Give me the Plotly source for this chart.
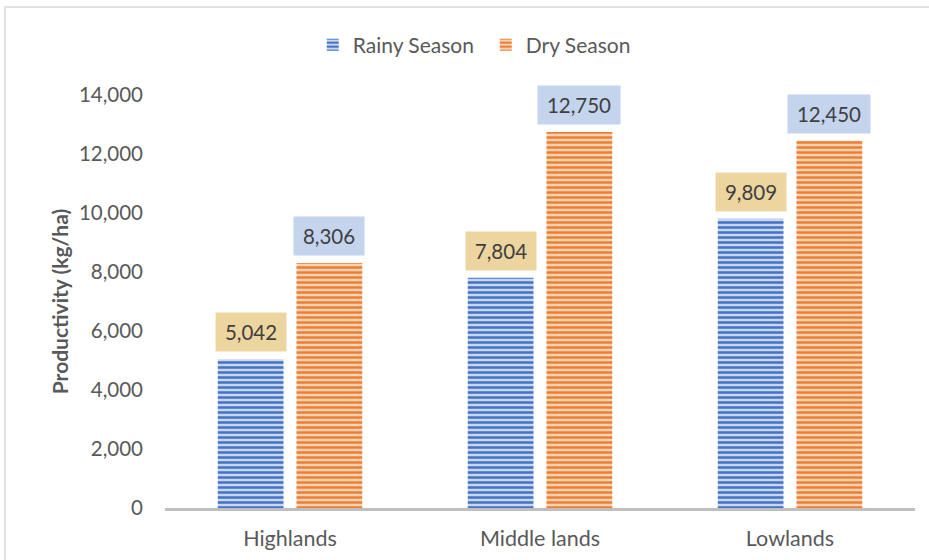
import plotly.graph_objects as go

categories = ["Highlands", "Middle lands", "Lowlands"]
rainy = [5042, 7804, 9809]
dry = [8306, 12750, 12450]
series_names = ["Rainy Season", "Dry Season"]
y_ticks = [0, 2000, 4000, 6000, 8000, 10000, 12000, 14000]

FONT = "Lato"
GREY = "#595959"
BARGAP = 0.37
BARGROUPGAP = 0.165

fig = go.Figure()
fig.add_trace(go.Bar(
    x=categories, y=rainy, name=series_names[0],
    marker=dict(color="#4472C4", line=dict(width=0),
                pattern=dict(shape="-", size=5, solidity=0.5,
                             fgcolor="#4472C4", bgcolor="#C9D6F0", fillmode="replace")),
))
fig.add_trace(go.Bar(
    x=categories, y=dry, name=series_names[1],
    marker=dict(color="#ED7D31", line=dict(width=0),
                pattern=dict(shape="-", size=5, solidity=0.5,
                             fgcolor="#ED7D31", bgcolor="#FAD3B6", fillmode="replace")),
))

# data labels
slot = (1 - BARGAP) / 2
for i, cat in enumerate(categories):
    for vals, off, bg in ((rainy, -slot / 2, "#EDD59F"), (dry, slot / 2, "#C5D4ED")):
        txt = f"{vals[i]:,}"
        fig.add_annotation(
            x=i + off, y=vals[i], xref="x", yref="y", text=txt, showarrow=False,
            yanchor="bottom", yshift=7, bgcolor=bg, borderpad=0,
            width=82 if len(txt) > 5 else 70, height=38,
            font=dict(family=FONT, size=20.5, color="#404040"),
        )

# chart border
fig.add_shape(type="rect", xref="paper", yref="paper",
              x0=-160 / 750, x1=1.05, y0=-0.2, y1=(508 - 7) / 413,
              line=dict(color="#D9D9D9", width=1.5), layer="below")

fig.update_layout(
    width=929, height=560,
    margin=dict(l=165, r=14, t=95, b=52),
    paper_bgcolor="white", plot_bgcolor="white",
    barmode="group", bargap=BARGAP, bargroupgap=BARGROUPGAP,
    font=dict(family=FONT, color=GREY),
    showlegend=True,
    legend=dict(orientation="h", x=0.197, xanchor="left", y=(508 - 45) / 413, yanchor="middle",
                font=dict(size=21, color=GREY), itemwidth=30, entrywidth=128,
                entrywidthmode="pixels", traceorder="normal"),
)
fig.update_xaxes(type="category", showline=True, linecolor="#BFBFBF", linewidth=3,
                 ticks="", showgrid=False, tickfont=dict(size=21.5, color=GREY),
                 ticklabelstandoff=9, automargin=False)
fig.update_yaxes(range=[0, 14000], tickvals=y_ticks, tickformat=",d", showgrid=False,
                 zeroline=False, showline=False, ticks="", automargin=False,
                 tickfont=dict(size=20.5, color=GREY), ticklabelstandoff=21,
                 title=dict(text="<b>Productivity (kg/ha)</b>", standoff=4,
                            font=dict(size=21, color=GREY)))

fig.write_html("out.html")
